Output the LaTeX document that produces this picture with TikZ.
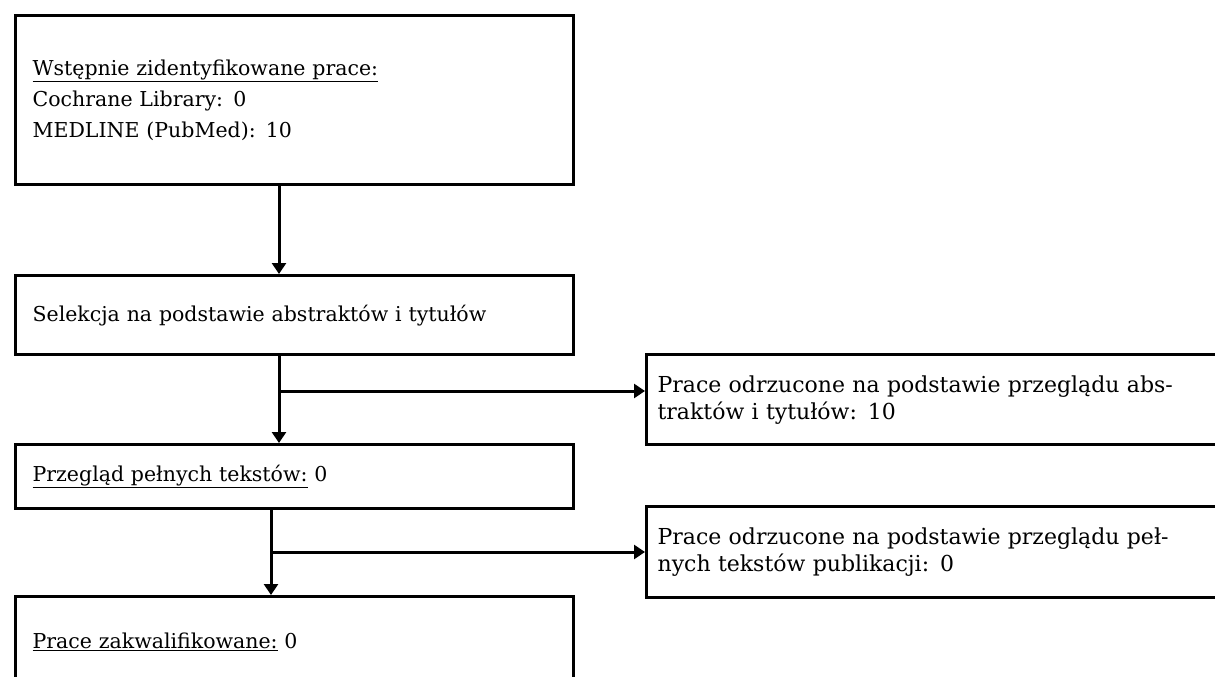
\documentclass[tikz,border=0pt]{standalone}
\usepackage{fontspec}
\setmainfont{DejaVu Serif}
\usetikzlibrary{arrows.meta}
\begin{document}
\begin{tikzpicture}[x=1pt,y=-1pt,
  box/.style={draw, line width=3.2pt, rectangle, anchor=north west,
    inner ysep=0pt, align=left, font=\fontsize{20.5}{31}\selectfont},
  mainbox/.style={box, inner xsep=17pt, text width=524pt, minimum width=558pt},
  sidebox/.style={box, inner xsep=11pt, text width=573pt, minimum width=595pt,
    font=\fontsize{22}{27}\selectfont},
  conn/.style={line width=3pt},
  arr/.style={conn, -{Triangle[width=14pt,length=11pt]}}]
\useasboundingbox (0,0) rectangle (1215,677);
\clip (0,0) rectangle (1215,677);

\node[mainbox, minimum height=169pt] (b1) at (14,14)
  {\underline{Wstępnie zidentyfikowane prace:}\\Cochrane Library: 0\\MEDLINE (PubMed): 10};
\node[mainbox, minimum height=79pt] (b2) at (14,274)
  {Selekcja na podstawie abstraktów i tytułów};
\node[mainbox, minimum height=64pt] (b3) at (14,443)
  {\underline{Przegląd pełnych tekstów:} 0};
\node[mainbox, minimum height=90pt] (b4) at (14,595)
  {\underline{Prace zakwalifikowane:} 0};

\node[sidebox, minimum height=90pt] (r1) at (645,353)
  {Prace odrzucone na podstawie przeglądu abs-\\traktów i tytułów: 10};
\node[sidebox, minimum height=91pt] (r2) at (645,505)
  {Prace odrzucone na podstawie przeglądu peł-\\nych tekstów publikacji: 0};

\coordinate (s1) at (279,0);
\coordinate (j1) at (279,391);
\coordinate (j2) at (271,552);

\draw[arr] (b1.south -| s1) -- (b2.north -| s1);
\draw[arr] (b2.south -| j1) -- (b3.north -| j1);
\draw[arr] (j1) -- (j1 -| r1.west);
\draw[arr] (b3.south -| j2) -- (b4.north -| j2);
\draw[arr] (j2) -- (j2 -| r2.west);
\end{tikzpicture}
\end{document}
